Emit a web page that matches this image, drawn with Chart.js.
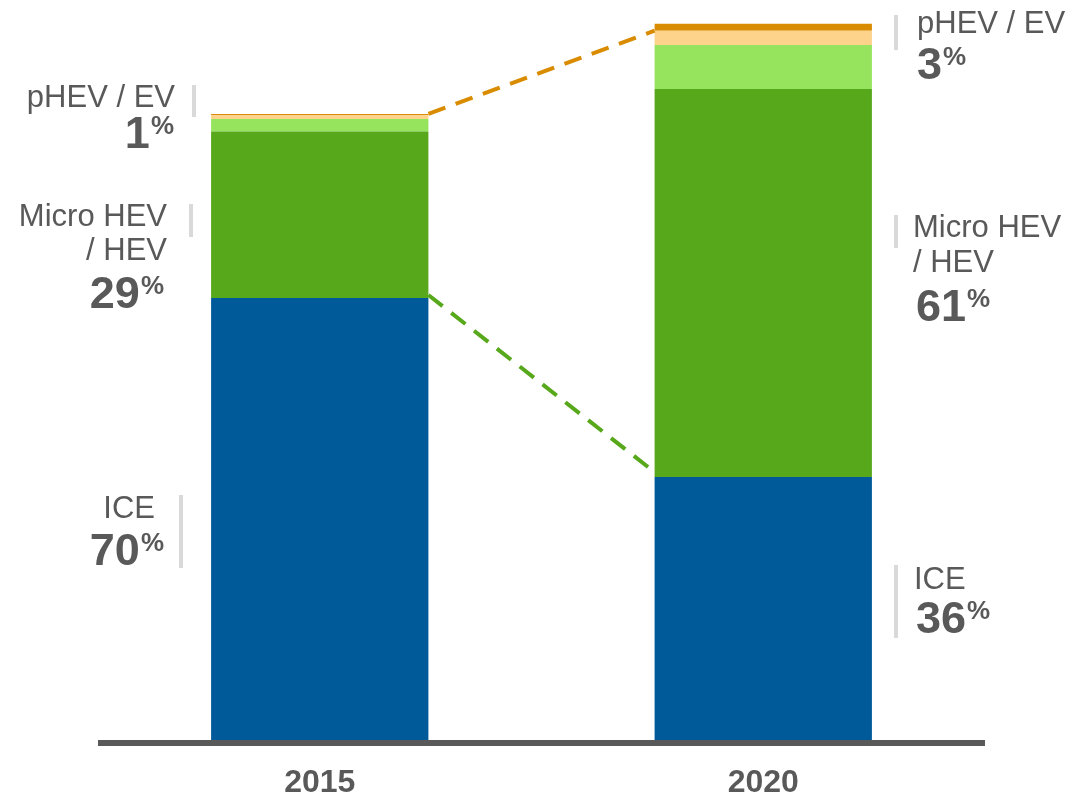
<!DOCTYPE html>
<html>
<head>
<meta charset="utf-8">
<script src="https://cdn.jsdelivr.net/npm/chart.js@4.4.0/dist/chart.umd.min.js"></script>
<style>
  html, body { margin: 0; padding: 0; background: #fff; }
  #wrap { width: 1085px; height: 794px; }
</style>
</head>
<body>
<div id="wrap"><canvas id="chart" width="1085" height="794"></canvas></div>
<script>
// market volume, 2015 total = 100
const years = ["2015", "2020"];
const ice = [70.6, 42.0];
const microHev = [26.6, 62.0];
const hev = [2.0, 7.0];
const phev = [0.6, 2.3];
const ev = [0.2, 1.1];

// callout texts (bottom group first)
const groupNames = [["ICE"], ["Micro HEV", "/ HEV"], ["pHEV / EV"]];
const share2015 = ["70", "29", "1"];
const share2020 = ["36", "61", "3"];

const TEXT = "#595959";
const FAMILY = '"Liberation Sans", Arial, sans-serif';

// callout layout, same order as groupNames
const layout2015 = [
  { lx: 155, lines: [518], nx: 163, ny: 565, mark: [181, 495, 568] },
  { lx: 167, lines: [226, 260], nx: 163, ny: 308, mark: [191, 204, 237] },
  { lx: 175, lines: [107], nx: 173, ny: 148, mark: [194, 85, 117] },
];
const layout2020 = [
  { lx: 914, lines: [589], nx: 916, ny: 633, mark: [896, 565, 638] },
  { lx: 913, lines: [237, 272], nx: 916, ny: 321, mark: [896, 215, 248] },
  { lx: 917, lines: [33], nx: 917, ny: 79, mark: [896, 15, 50] },
];

function drawCallouts(ctx, lay, shares, alignRight) {
  lay.forEach((c, i) => {
    ctx.fillStyle = "#d9d9d9";
    ctx.fillRect(c.mark[0] - 2, c.mark[1], 4, c.mark[2] - c.mark[1]);

    ctx.fillStyle = TEXT;
    ctx.textBaseline = "alphabetic";
    ctx.font = "31px " + FAMILY;
    ctx.textAlign = alignRight ? "right" : "left";
    groupNames[i].forEach((t, k) => ctx.fillText(t, c.lx, c.lines[k]));

    ctx.font = "bold 26px " + FAMILY;
    const pw = ctx.measureText("%").width;
    ctx.font = "bold 45px " + FAMILY;
    const nw = ctx.measureText(shares[i]).width;
    ctx.textAlign = "left";
    const x0 = alignRight ? c.nx - pw - nw : c.nx;
    ctx.fillText(shares[i], x0, c.ny);
    ctx.font = "bold 26px " + FAMILY;
    ctx.fillText("%", x0 + nw + 1, c.ny - 14);
  });
}

const overlay = {
  id: "overlay",
  afterDatasetsDraw(chart) {
    const ctx = chart.ctx;
    const area = chart.chartArea;
    ctx.save();

    // axis line
    ctx.fillStyle = "#595959";
    ctx.fillRect(area.left, area.bottom, area.right - area.left, 6);

    // dashed connectors
    const iceBars = chart.getDatasetMeta(0).data;
    const evBars = chart.getDatasetMeta(4).data;
    ctx.lineWidth = 4;
    ctx.setLineDash([18, 11]);

    ctx.strokeStyle = "#58a81c";
    ctx.beginPath();
    ctx.moveTo(iceBars[0].x + iceBars[0].width / 2, iceBars[0].y - 3);
    ctx.lineTo(iceBars[1].x - iceBars[1].width / 2 - 4, iceBars[1].y - 8);
    ctx.stroke();

    ctx.strokeStyle = "#d98c00";
    ctx.beginPath();
    ctx.moveTo(evBars[0].x + evBars[0].width / 2, evBars[0].y);
    ctx.lineTo(evBars[1].x - evBars[1].width / 2, evBars[1].base);
    ctx.stroke();
    ctx.setLineDash([]);

    drawCallouts(ctx, layout2015, share2015, true);
    drawCallouts(ctx, layout2020, share2020, false);
    ctx.restore();
  },
};

const makeSet = (label, data, color) => ({
  label, data, backgroundColor: color, borderWidth: 0,
  categoryPercentage: 1, barPercentage: 0.49,
});

new Chart(document.getElementById("chart"), {
  type: "bar",
  data: {
    labels: years,
    datasets: [
      makeSet("ICE", ice, "#005a9a"),
      makeSet("Micro HEV", microHev, "#58a81c"),
      makeSet("HEV", hev, "#96e45e"),
      makeSet("pHEV", phev, "#fdd28a"),
      makeSet("EV", ev, "#d98c00"),
    ],
  },
  options: {
    responsive: false,
    animation: false,
    devicePixelRatio: 1,
    layout: { padding: { top: 10, left: 98, right: 100, bottom: 0 } },
    plugins: { legend: { display: false }, tooltip: { enabled: false } },
    scales: {
      x: {
        stacked: true,
        grid: { display: false },
        border: { display: false },
        ticks: {
          color: TEXT,
          padding: 19,
          font: { family: FAMILY, size: 32, weight: "bold", lineHeight: 1 },
        },
        afterFit(scale) { scale.height = 54; },
      },
      y: { stacked: true, display: false, min: 0, max: 116.6 },
    },
  },
  plugins: [overlay],
});
</script>
</body>
</html>
